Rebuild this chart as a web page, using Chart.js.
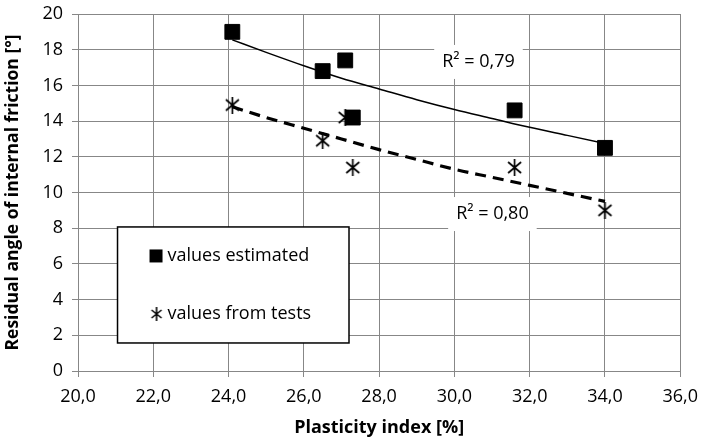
<!DOCTYPE html>
<html>
<head>
<meta charset="utf-8">
<script src="https://cdn.jsdelivr.net/npm/chart.js@4.4.1/dist/chart.umd.min.js"></script>
<style>
  body { margin: 0; background: #fff; }
</style>
</head>
<body>
<canvas id="canvas" width="707" height="444"></canvas>
<script>
// plasticity index of the samples
var plasticity = [24.1, 26.5, 27.1, 27.3, 31.6, 34.0];
// residual friction angle
var estimated = [19.0, 16.8, 17.4, 14.2, 14.6, 12.5];
var fromTests = [14.9, 12.9, 14.2, 11.4, 11.4, 9.0];

// trend lines
var trendX = [24.1, 25, 26, 27, 28, 29, 30, 31, 32, 33, 34];
var trendEstimated = [18.55, 17.85, 17.1, 16.4, 15.8, 15.2, 14.65, 14.15, 13.65, 13.2, 12.75];
var trendTests = [14.8, 14.2, 13.6, 13.0, 12.4, 11.85, 11.3, 10.85, 10.4, 9.95, 9.5];

var xTicks = [20, 22, 24, 26, 28, 30, 32, 34, 36];
var yTicks = [0, 2, 4, 6, 8, 10, 12, 14, 16, 18, 20];

var r2Labels = [
  { text: 'R² = 0,79', x: 30.64, y: 17.37 },
  { text: 'R² = 0,80', x: 31.01, y: 8.85 }
];
var legendItems = ['values estimated', 'values from tests'];

var FONT = '"Open Sans", sans-serif';
var GRID = '#878787';

function pts(xs, ys) {
  return xs.map(function (x, i) { return { x: x, y: ys[i] }; });
}

// excel style star marker: an X with a vertical bar
function starMarker(size, lw) {
  var c = document.createElement('canvas');
  c.width = size; c.height = size;
  var g = c.getContext('2d');
  g.strokeStyle = '#000';
  g.lineWidth = lw;
  var m = 2;
  g.beginPath();
  g.moveTo(m, m + 1); g.lineTo(size - m, size - m - 1);
  g.moveTo(size - m, m + 1); g.lineTo(m, size - m - 1);
  g.moveTo(size / 2, 0); g.lineTo(size / 2, size);
  g.stroke();
  return c;
}
var star = starMarker(17, 1.7);
var smallStar = starMarker(14, 1.6);

var extras = {
  id: 'extras',
  afterDatasetsDraw: function (chart) {
    var c = chart.ctx, xs = chart.scales.x, ys = chart.scales.y;
    c.save();
    // R² boxes
    c.font = '18px ' + FONT;
    c.textAlign = 'center';
    c.textBaseline = 'middle';
    r2Labels.forEach(function (l) {
      var px = xs.getPixelForValue(l.x), py = ys.getPixelForValue(l.y);
      var w = c.measureText(l.text).width + 16;
      c.fillStyle = '#fff';
      c.fillRect(px - w / 2, py - 16, w, 34);
      c.fillStyle = '#000';
      c.fillText(l.text, px, py + 1);
    });
    // legend box
    var left = xs.getPixelForValue(21.05), right = xs.getPixelForValue(27.2);
    var top = ys.getPixelForValue(8.07), bottom = ys.getPixelForValue(1.57);
    c.fillStyle = '#fff';
    c.fillRect(left, top, right - left, bottom - top);
    c.strokeStyle = '#000';
    c.lineWidth = 1.5;
    c.strokeRect(left, top, right - left, bottom - top);
    c.textAlign = 'left';
    c.fillStyle = '#000';
    var rowH = (bottom - top) / 2;
    legendItems.forEach(function (t, i) {
      var cy = top + rowH * (i + 0.5);
      if (i === 0) {
        c.fillRect(left + 32, cy - 6.5, 13, 13);
      } else {
        c.drawImage(smallStar, left + 32, cy - 7);
      }
      c.fillText(t, left + 50, cy);
    });
    c.restore();
  }
};

var ctx = document.getElementById('canvas').getContext('2d');
var myChart = new Chart(ctx, {
  type: 'scatter',
  data: {
    datasets: [{
      label: legendItems[0],
      data: pts(plasticity, estimated),
      pointStyle: 'rect',
      pointRadius: 10.5,
      backgroundColor: '#000',
      borderColor: '#000',
      borderWidth: 1,
      order: 1
    }, {
      label: legendItems[1],
      data: pts(plasticity, fromTests),
      pointStyle: star,
      pointRadius: 8,
      order: 2
    }, {
      label: 'trend estimated',
      data: pts(trendX, trendEstimated),
      showLine: true,
      pointRadius: 0,
      borderColor: '#000',
      borderWidth: 1.5,
      cubicInterpolationMode: 'monotone',
      order: 3
    }, {
      label: 'trend tests',
      data: pts(trendX, trendTests),
      showLine: true,
      pointRadius: 0,
      borderColor: '#000',
      borderWidth: 3.2,
      borderDash: [11, 7],
      cubicInterpolationMode: 'monotone',
      order: 4
    }]
  },
  options: {
    responsive: false,
    animation: false,
    layout: { padding: { top: 14, right: 20, left: 0, bottom: 0 } },
    plugins: {
      legend: { display: false },
      tooltip: { enabled: false }
    },
    scales: {
      x: {
        type: 'linear',
        min: 20, max: 36,
        afterFit: function (s) { s.height = 73; },
        afterBuildTicks: function (s) { s.ticks = xTicks.map(function (v) { return { value: v }; }); },
        ticks: {
          color: '#000',
          font: { family: FONT, size: 18 },
          padding: 9,
          maxRotation: 0,
          callback: function (v) { return v.toFixed(1).replace('.', ','); }
        },
        grid: { color: GRID, lineWidth: 1, tickLength: 6 },
        border: { color: GRID, width: 1 },
        title: {
          display: true,
          text: 'Plasticity index [%]',
          color: '#000',
          font: { family: FONT, size: 18, weight: 'bold' },
          padding: { top: 0, bottom: 5 }
        }
      },
      y: {
        type: 'linear',
        min: 0, max: 20,
        afterFit: function (s) { s.width = 78; s.paddingTop = 0; s.paddingBottom = 0; },
        afterBuildTicks: function (s) { s.ticks = yTicks.map(function (v) { return { value: v }; }); },
        ticks: {
          color: '#000',
          font: { family: FONT, size: 18 },
          padding: 9
        },
        grid: { color: GRID, lineWidth: 1, tickLength: 6 },
        border: { color: GRID, width: 1 },
        title: {
          display: true,
          text: 'Residual angle of internal friction [°]',
          color: '#000',
          font: { family: FONT, size: 17.5, weight: 'bold' },
          padding: { top: 3, bottom: 0 }
        }
      }
    }
  },
  plugins: [extras]
});
</script>
</body>
</html>
